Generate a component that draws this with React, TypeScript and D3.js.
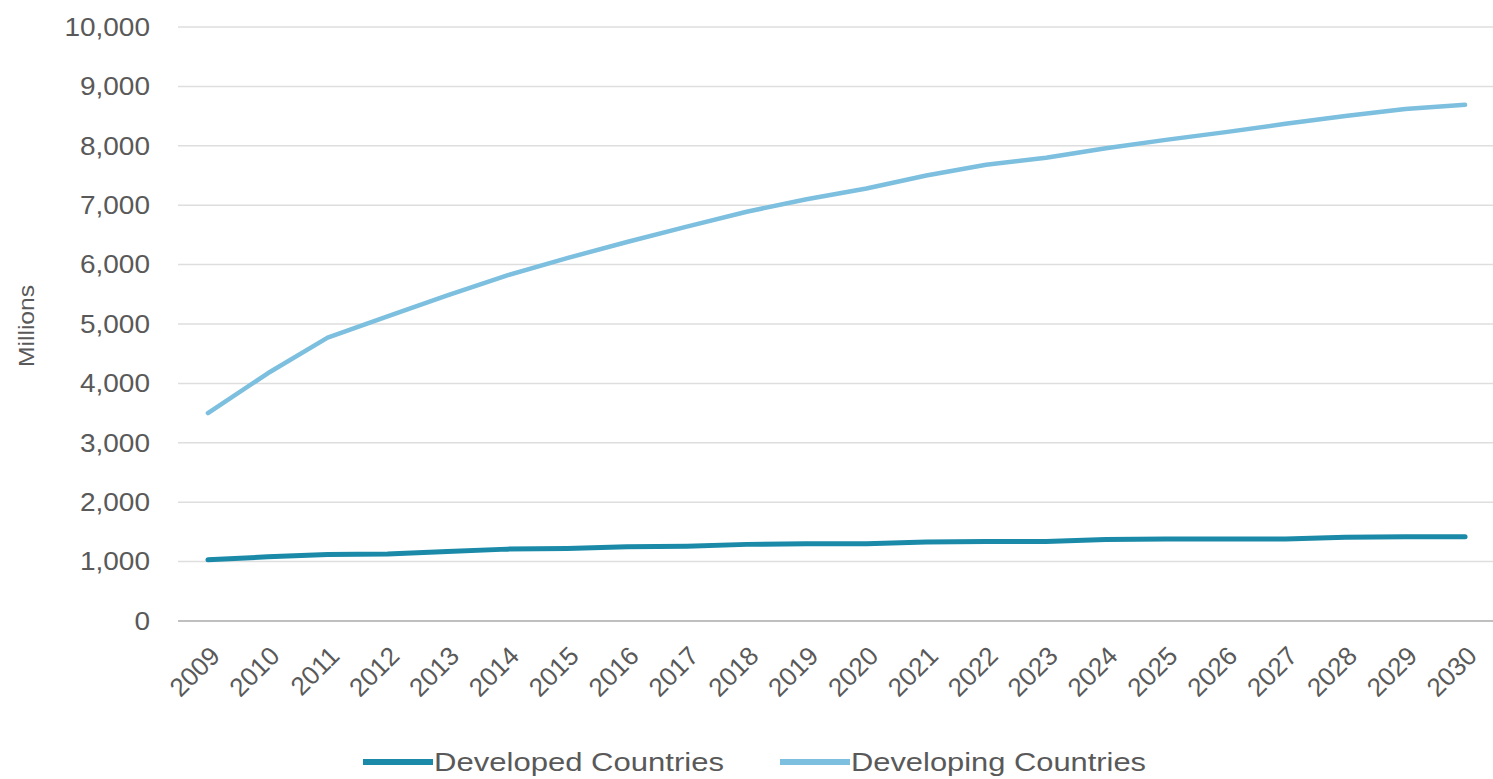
import React from "react";
import * as d3 from "d3";

const years = ["2009","2010","2011","2012","2013","2014","2015","2016","2017","2018","2019","2020","2021","2022","2023","2024","2025","2026","2027","2028","2029","2030"];
const developed = [1030,1080,1120,1130,1170,1210,1220,1250,1260,1290,1300,1300,1330,1340,1340,1370,1380,1380,1380,1410,1420,1420];
const developing = [3500,4170,4770,5130,5480,5820,6110,6380,6640,6890,7100,7280,7500,7680,7800,7960,8100,8230,8370,8500,8620,8690];
const yTicks = [0,1000,2000,3000,4000,5000,6000,7000,8000,9000,10000];
const seriesNames = ["Developed Countries", "Developing Countries"];
const seriesColors = ["#1a8aa8", "#7dbfde"];

const W = 1493, H = 779;
const FONT = "'Liberation Sans', Arial, sans-serif";
const TXT = "#595959";

export default function App() {
  const x = d3.scalePoint<string>().domain(years).range([178, 1495]).padding(0.5);
  const y = d3.scaleLinear().domain([0, 10000]).range([621, 27]);
  const fmt = d3.format(",");
  const line = d3.line<number>().x((_, i) => x(years[i]) as number).y(d => y(d));
  const series = [developed, developing];
  const widths = [5, 4.5];

  return (
    <svg width={W} height={H} style={{ position: "absolute", left: 0, top: 0, background: "#fff" }} fontFamily={FONT}>
      {yTicks.map(t => (
        <line key={t} x1={178} x2={1493} y1={y(t)} y2={y(t)} stroke={t === 0 ? "#bfbfbf" : "#dedede"} strokeWidth={t === 0 ? 2 : 1.5} />
      ))}
      {yTicks.map(t => (
        <text key={"l" + t} transform={`translate(150,${y(t)}) scale(1.12,1)`} textAnchor="end" dy="0.35em" fontSize={25} fill={TXT}>{fmt(t)}</text>
      ))}
      <text transform="translate(34,326) rotate(-90) scale(1.12,1)" textAnchor="middle" fontSize={22} fill={TXT}>Millions</text>
      {years.map(yr => (
        <text key={yr} transform={`translate(${(x(yr) as number) + 7},${651}) rotate(-45)`} textAnchor="end" dy="0.35em" fontSize={26} fill={TXT}>{yr}</text>
      ))}
      {series.map((s, i) => (
        <path key={i} d={line(s) || ""} fill="none" stroke={seriesColors[i]} strokeWidth={widths[i]} strokeLinejoin="round" strokeLinecap="round" />
      ))}
      {seriesNames.map((n, i) => {
        const lx = i === 0 ? 363 : 780;
        return (
          <g key={n}>
            <line x1={lx} x2={lx + 70} y1={762} y2={762} stroke={seriesColors[i]} strokeWidth={6} />
            <text x={lx + 71} y={762} dy="0.35em" fontSize={26} fill={TXT} textLength={i === 0 ? 290 : 295} lengthAdjust="spacingAndGlyphs">{n}</text>
          </g>
        );
      })}
    </svg>
  );
}
